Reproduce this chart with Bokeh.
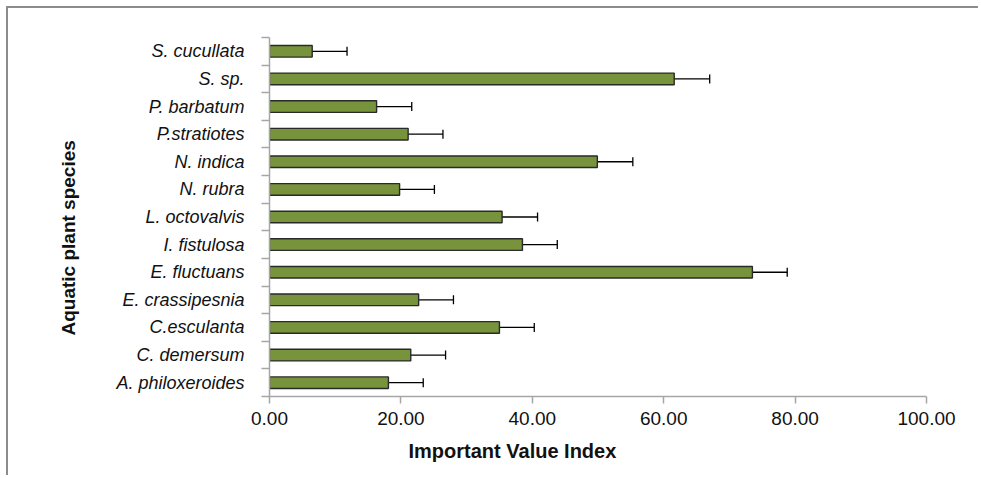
from bokeh.plotting import figure
from bokeh.models import (Range1d, FixedTicker, NumeralTickFormatter, Whisker,
                          TeeHead, ColumnDataSource, Title)
from bokeh.embed import file_html
from bokeh.resources import INLINE

# Data (bottom-to-top, as in the source sheet order)
species = ["A. philoxeroides", "C. demersum", "C.esculanta", "E. crassipesnia",
           "E. fluctuans", "I. fistulosa", "L. octovalvis", "N. rubra",
           "N. indica", "P.stratiotes", "P. barbatum", "S. sp.", "S. cucullata"]
ivi = [18.1, 21.5, 35.0, 22.7, 73.5, 38.5, 35.4, 19.8, 49.9, 21.1, 16.3, 61.6, 6.5]
err = [5.3, 5.3, 5.3, 5.3, 5.3, 5.3, 5.4, 5.3, 5.4, 5.3, 5.35, 5.4, 5.3]
x_ticks = [0, 20, 40, 60, 80, 100]

ypos = [i + 0.5 for i in range(len(species))]
src = ColumnDataSource(dict(
    y=ypos, v=ivi,
    lo=[v - e for v, e in zip(ivi, err)],
    hi=[v + e for v, e in zip(ivi, err)],
))

p = figure(width=972, height=469, output_backend="svg", toolbar_location=None,
           x_range=Range1d(0, 100), y_range=Range1d(0, len(species)),
           min_border_left=261, min_border_right=54,
           min_border_top=29, min_border_bottom=81)
p.styles = {"margin-left": "6px", "margin-top": "6px",
            "border-left": "2px solid #8c8c8c", "border-top": "2px solid #8c8c8c",
            "border-right": "0px none", "border-bottom": "0px none",
            "outline": "none", "box-shadow": "none"}
p.outline_line_color = None
p.xgrid.grid_line_color = None
p.ygrid.grid_line_color = None

p.hbar(y="y", right="v", left=0, height=0.42, source=src,
       fill_color="#77933C", line_color="#2a2a2a", line_width=1.4)

wh = Whisker(base="y", lower="lo", upper="hi", dimension="width", source=src,
             line_color="black", line_width=1.3,
             upper_head=TeeHead(size=9, line_color="black", line_width=1.3),
             lower_head=TeeHead(size=9, line_color="black", line_width=1.3))
p.add_layout(wh)

axis_col = "#a6a6a6"
# x axis
xa = p.xaxis[0]
xa.ticker = FixedTicker(ticks=x_ticks)
xa.formatter = NumeralTickFormatter(format="0.00")
xa.axis_line_color = axis_col
xa.axis_line_width = 1.5
xa.major_tick_line_color = axis_col
xa.major_tick_line_width = 1.5
xa.major_tick_out = 7
xa.major_tick_in = 0
xa.minor_tick_line_color = None
xa.major_label_text_font = "Liberation Sans"
xa.major_label_text_font_size = "19px"
xa.major_label_text_color = "#111111"
xa.major_label_standoff = 8

# y axis
ya = p.yaxis[0]
ya.ticker = FixedTicker(ticks=ypos, minor_ticks=list(range(len(species) + 1)))
ya.major_label_overrides = {y: s for y, s in zip(ypos, species)}
ya.axis_line_color = axis_col
ya.axis_line_width = 1.5
ya.major_tick_line_color = None
ya.major_tick_out = 0
ya.major_tick_in = 0
ya.minor_tick_line_color = axis_col
ya.minor_tick_line_width = 1.5
ya.minor_tick_out = 8
ya.minor_tick_in = 0
ya.major_label_text_font = "Liberation Sans"
ya.major_label_text_font_style = "italic"
ya.major_label_text_font_size = "18px"
ya.major_label_text_color = "#111111"
ya.major_label_standoff = 17

# axis titles (placed off-centre as in the original)
p.add_layout(Title(text="Important Value Index", align="left", offset=139,
                   standoff=21,
                   text_font="Liberation Sans", text_font_style="bold",
                   text_font_size="20px", text_color="#111111"), "below")
p.add_layout(Title(text="Aquatic plant species", align="left", offset=61,
                   standoff=70,
                   text_font="Liberation Sans", text_font_style="bold",
                   text_font_size="19px", text_color="#111111"), "left")

open("out.html", "w").write(file_html(p, INLINE))
